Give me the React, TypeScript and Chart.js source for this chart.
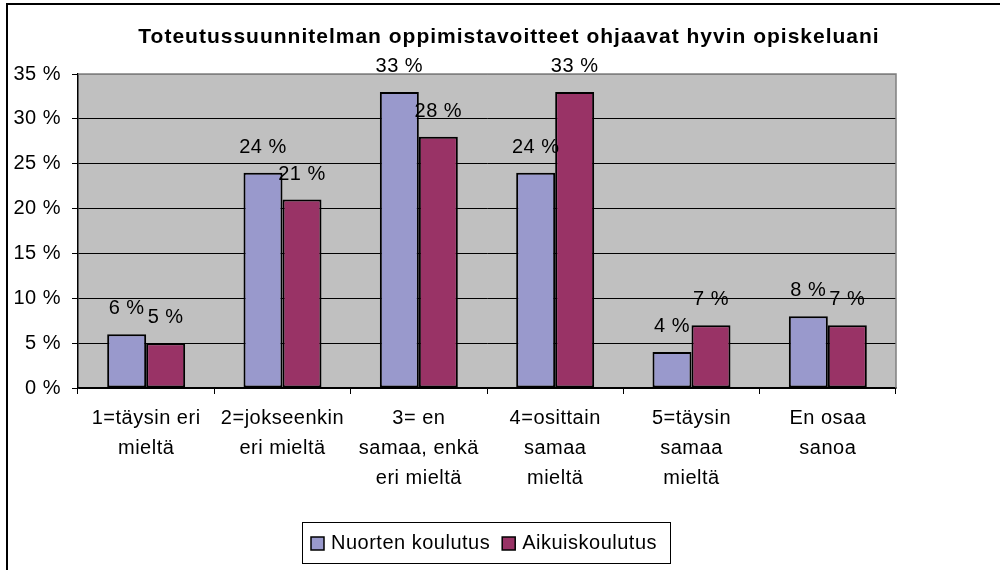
import { useEffect, useRef } from 'react';
import { Chart, registerables } from 'chart.js';
Chart.register(...registerables);

const chartTitle = 'Toteutussuunnitelman oppimistavoitteet ohjaavat hyvin opiskeluani';
const categories: string[][] = [
  ['1=täysin eri', 'mieltä'],
  ['2=jokseenkin', 'eri mieltä'],
  ['3= en', 'samaa, enkä', 'eri mieltä'],
  ['4=osittain', 'samaa', 'mieltä'],
  ['5=täysin', 'samaa', 'mieltä'],
  ['En osaa', 'sanoa'],
];
const seriesNames = ['Nuorten koulutus', 'Aikuiskoulutus'];
const nuortenValues = [6, 24, 33, 24, 4, 8];
const aikuisValues = [5, 21, 28, 33, 7, 7];
const seriesColors = ['#9999CC', '#993366'];
const yMin = 0;
const yMax = 35;
const yStep = 5;

const FONT = '"Liberation Sans", Arial, sans-serif';
const SPACING = '0.5px';

export default function App() {
  const ref = useRef<HTMLCanvasElement>(null);
  useEffect(() => {
    if (!ref.current) return;
    const decor = {
      id: 'decor',
      beforeUpdate(c: any) {
        c.ctx.letterSpacing = SPACING;
      },
      beforeDraw(c: any) {
        const { ctx, chartArea: a } = c;
        ctx.save();
        ctx.fillStyle = '#ffffff';
        ctx.fillRect(0, 0, c.width, c.height);
        ctx.fillStyle = '#C0C0C0';
        ctx.fillRect(a.left, a.top, a.right - a.left, a.bottom - a.top);
        ctx.strokeStyle = '#000';
        ctx.lineWidth = 2;
        ctx.beginPath();
        ctx.moveTo(7, 570);
        ctx.lineTo(7, 4);
        ctx.lineTo(1000, 4);
        ctx.stroke();
        ctx.restore();
        ctx.letterSpacing = SPACING;
      },
      afterDatasetsDraw(c: any) {
        const { ctx, chartArea: a } = c;
        ctx.save();
        // plot border top/right in gray
        ctx.strokeStyle = '#808080';
        ctx.lineWidth = 1.5;
        ctx.beginPath();
        ctx.moveTo(a.left, a.top);
        ctx.lineTo(a.right, a.top);
        ctx.lineTo(a.right, a.bottom);
        ctx.stroke();
        // data labels
        ctx.fillStyle = '#000';
        ctx.font = `20px ${FONT}`;
        ctx.letterSpacing = SPACING;
        ctx.textAlign = 'center';
        ctx.textBaseline = 'alphabetic';
        c.data.datasets.forEach((ds: any, di: number) => {
          const meta = c.getDatasetMeta(di);
          meta.data.forEach((el: any, i: number) => {
            ctx.fillText(`${ds.data[i]} %`, el.x, el.y - 20);
          });
        });
        ctx.restore();
      },
      afterDraw(c: any) {
        const { ctx } = c;
        ctx.save();
        // title
        ctx.fillStyle = '#000';
        ctx.font = `bold 21px ${FONT}`;
        ctx.letterSpacing = '1px';
        ctx.textAlign = 'center';
        ctx.textBaseline = 'alphabetic';
        ctx.fillText(chartTitle, 509, 43);
        // legend
        ctx.letterSpacing = SPACING;
        ctx.strokeStyle = '#000';
        ctx.lineWidth = 1;
        ctx.strokeRect(302.5, 522.5, 368, 41);
        ctx.font = `20px ${FONT}`;
        ctx.textAlign = 'left';
        let x = 311;
        c.data.datasets.forEach((ds: any) => {
          ctx.fillStyle = ds.backgroundColor;
          ctx.fillRect(x, 537, 13, 13);
          ctx.lineWidth = 1.5;
          ctx.strokeRect(x, 537, 13, 13);
          ctx.fillStyle = '#000';
          ctx.fillText(ds.label, x + 20, 549);
          x += 20 + ctx.measureText(ds.label).width + 12;
        });
        ctx.restore();
      },
    };

    const chart = new Chart(ref.current, {
      type: 'bar',
      data: {
        labels: categories,
        datasets: [
          {
            label: seriesNames[0],
            data: nuortenValues,
            backgroundColor: seriesColors[0],
            borderColor: '#000',
            borderWidth: 2,
            borderSkipped: false,
            categoryPercentage: 0.572,
            barPercentage: 1,
          },
          {
            label: seriesNames[1],
            data: aikuisValues,
            backgroundColor: seriesColors[1],
            borderColor: '#000',
            borderWidth: 2,
            borderSkipped: false,
            categoryPercentage: 0.572,
            barPercentage: 1,
          },
        ],
      },
      options: {
        responsive: false,
        animation: false,
        events: [],
        layout: { padding: { top: 74, left: 8, right: 104, bottom: 0 } },
        plugins: {
          legend: { display: false },
          title: { display: false },
          tooltip: { enabled: false },
        },
        scales: {
          x: {
            grid: {
              display: true,
              drawOnChartArea: false,
              drawTicks: true,
              tickLength: 6,
              color: '#000',
              offset: true,
            },
            border: { display: true, color: '#000', width: 1.5 },
            ticks: {
              color: '#000',
              font: { family: FONT, size: 20, lineHeight: '30px' },
              padding: 9,
              maxRotation: 0,
              minRotation: 0,
              autoSkip: false,
            },
            afterFit(s: any) {
              s.height = 182;
            },
          },
          y: {
            min: yMin,
            max: yMax,
            grid: {
              color: (ctx: any) => (ctx.tick && ctx.tick.value === yMax ? '#808080' : '#000'),
              tickColor: '#000',
              lineWidth: 1,
              drawTicks: true,
              tickLength: 6,
            },
            border: { display: true, color: '#000', width: 1.5 },
            ticks: {
              stepSize: yStep,
              color: '#000',
              font: { family: FONT, size: 20 },
              padding: 11,
              callback: (v: any) => `${v} %`,
            },
            afterFit(s: any) {
              s.width = 70;
            },
          },
        },
      },
      plugins: [decor],
    });
    return () => chart.destroy();
  }, []);

  return (
    <div style={{ position: 'fixed', left: 0, top: 0, width: 1000, height: 570 }}>
      <canvas ref={ref} width={1000} height={570} style={{ display: 'block' }} />
    </div>
  );
}
